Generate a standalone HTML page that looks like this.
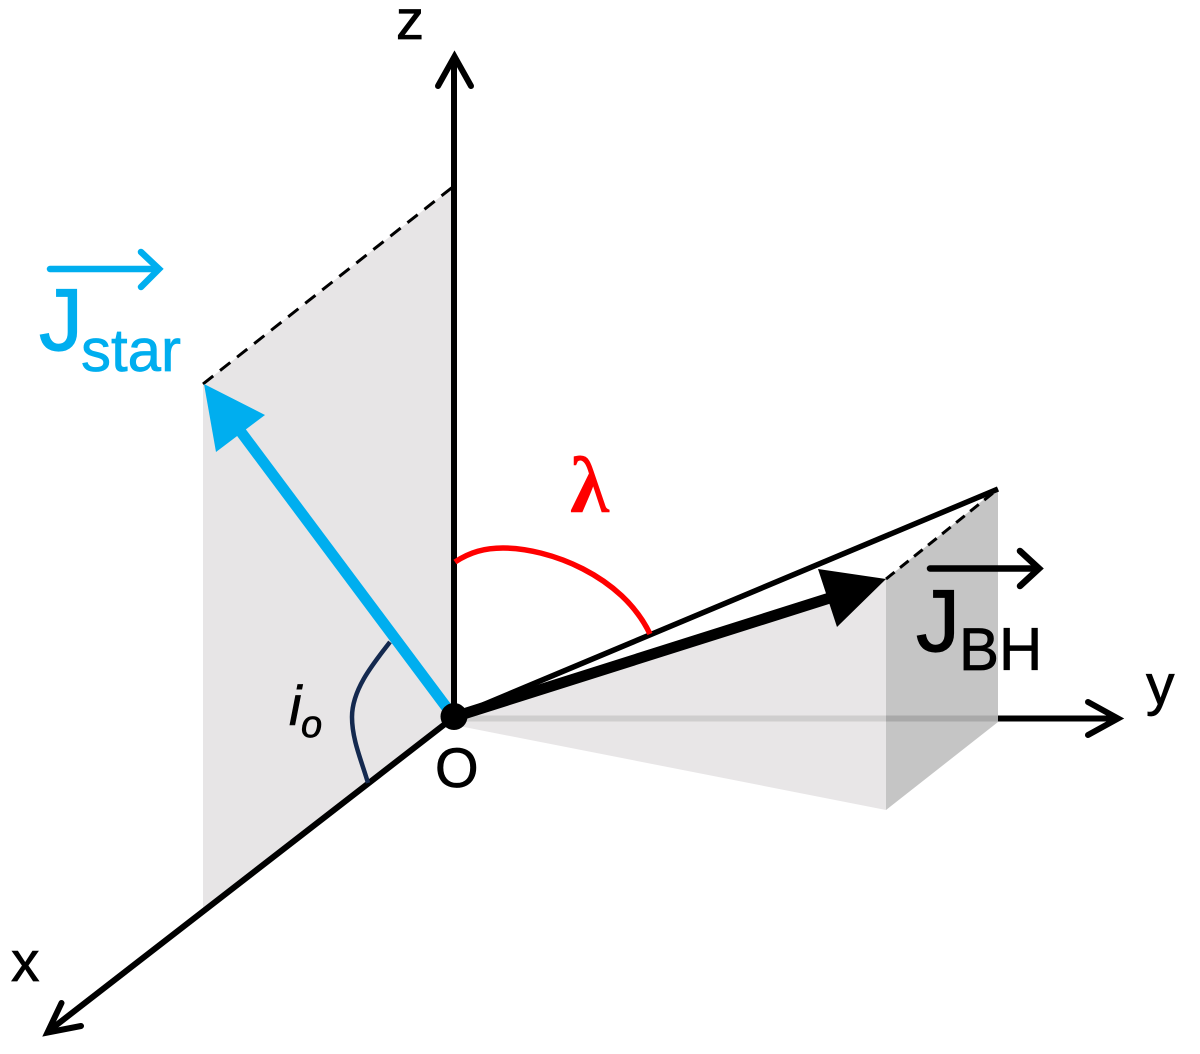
<!DOCTYPE html>
<html>
<head>
<meta charset="utf-8">
<style>
html,body{margin:0;padding:0;background:#fff;}
svg{display:block;}
text{font-family:"Liberation Sans",sans-serif;}
</style>
</head>
<body>
<svg width="1200" height="1054" viewBox="0 0 1200 1054" xmlns="http://www.w3.org/2000/svg">
<rect width="1200" height="1054" fill="#fff"/>
<!-- planes -->
<polygon points="203,384 454,186 454,716 203,908" fill="#e7e5e6"/>
<polygon points="454,717 886,579 886,810 454,725" fill="#e8e6e7"/>
<polygon points="886,579 998,488 998,722 886,810" fill="#c5c5c5"/>
<!-- dashed -->
<line x1="203" y1="384" x2="454" y2="186" stroke="#000" stroke-width="3" stroke-dasharray="13 8.7"/>
<line x1="886" y1="579" x2="998" y2="489" stroke="#000" stroke-width="3" stroke-dasharray="11 7"/>
<!-- y axis -->
<line x1="454" y1="718.5" x2="886" y2="718.5" stroke="#cfcece" stroke-width="6"/>
<line x1="886" y1="718.5" x2="998" y2="718.5" stroke="#a9a9a9" stroke-width="6"/>
<line x1="998" y1="718.5" x2="1116" y2="718.5" stroke="#000" stroke-width="6"/>
<polyline points="1088,702 1118,718.5 1088,735" fill="none" stroke="#000" stroke-width="6" stroke-linecap="round"/>
<!-- z axis -->
<line x1="454" y1="717" x2="454" y2="58" stroke="#000" stroke-width="6"/>
<polyline points="438,86 454.5,56.5 471,86" fill="none" stroke="#000" stroke-width="6" stroke-linecap="round"/>
<!-- x axis -->
<line x1="454" y1="717" x2="50" y2="1030" stroke="#000" stroke-width="6"/>
<polyline points="61.5,1003 47.5,1032.5 81,1026" fill="none" stroke="#000" stroke-width="6" stroke-linecap="round"/>
<!-- long line -->
<line x1="454" y1="717" x2="998" y2="489" stroke="#000" stroke-width="5.5"/>
<!-- BH vector -->
<line x1="454" y1="717" x2="836" y2="596" stroke="#000" stroke-width="11"/>
<polygon points="886,579 818,569 837,627" fill="#000"/>
<!-- star vector -->
<line x1="450" y1="712" x2="235" y2="424" stroke="#00aeef" stroke-width="11"/>
<polygon points="204,384 265,415 216,452" fill="#00aeef"/>
<!-- angles -->
<path d="M455,562 C470,552 485,548 503,548 C548,548 622,575 650,634" fill="none" stroke="#ff0000" stroke-width="5.5"/>
<path d="M390,642 C372,665 352,690 352,717 C352,740 362,762 368,783" fill="none" stroke="#14294f" stroke-width="4.5"/>
<!-- origin -->
<circle cx="454" cy="716.5" r="13.5" fill="#000"/>
<!-- labels -->
<g stroke="#000" stroke-width="0.7">
<text x="396" y="39" font-size="56" fill="#000">z</text>
<text x="1146" y="704" font-size="57" fill="#000">y</text>
<text x="11" y="981" font-size="57" fill="#000">x</text>
<text x="435" y="787" font-size="56" fill="#000">O</text>
<text x="289" y="725" font-size="56" font-style="italic" fill="#000">i</text>
<text x="301" y="737" font-size="38" font-style="italic" fill="#000">o</text>
<text x="916" y="651" font-size="88" fill="#000" stroke-width="1.2">J</text>
<text x="959" y="670" font-size="60" fill="#000">BH</text>
</g>
<text x="570" y="512" font-size="80" font-weight="bold" fill="#ff0000" style="font-family:'Liberation Serif',serif">λ</text>
<!-- J star -->
<text x="39" y="350" font-size="88" fill="#00aeef" stroke="#00aeef" stroke-width="1.2">J</text>
<text x="81" y="371" font-size="60" fill="#00aeef" stroke="#00aeef" stroke-width="0.7">star</text>
<line x1="50" y1="269" x2="156" y2="269" stroke="#00aeef" stroke-width="6.5" stroke-linecap="round"/>
<polyline points="141,252 159,269 141,287" fill="none" stroke="#00aeef" stroke-width="6.5" stroke-linecap="round"/>
<!-- J BH arrow -->
<line x1="930" y1="568.5" x2="1036" y2="568.5" stroke="#000" stroke-width="6.5" stroke-linecap="round"/>
<polyline points="1020,551 1039,568.5 1020,586" fill="none" stroke="#000" stroke-width="6.5" stroke-linecap="round"/>
</svg>
</body>
</html>
